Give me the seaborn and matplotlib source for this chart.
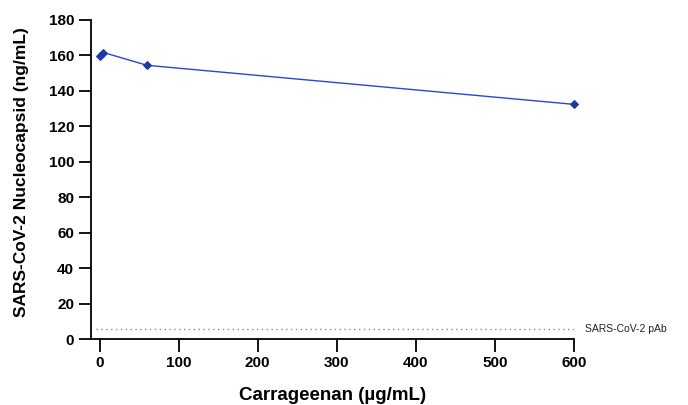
import matplotlib
matplotlib.use("Agg")
import matplotlib.pyplot as plt
import seaborn as sns
import pandas as pd

# dados
carrageenan = [0, 5, 60, 600]
nucleocapsid = [159.5, 161.6, 154.4, 132.4]
pab_level = 6
pab_label = "SARS-CoV-2 pAb"
x_ticks = [0, 100, 200, 300, 400, 500, 600]
y_ticks = [0, 20, 40, 60, 80, 100, 120, 140, 160, 180]

df = pd.DataFrame({"x": carrageenan, "y": nucleocapsid})

sns.set_style("ticks")
plt.rcParams["font.family"] = ["Liberation Sans", "DejaVu Sans"]
plt.rcParams["text.color"] = "black"
plt.rcParams["xtick.color"] = "black"
plt.rcParams["ytick.color"] = "black"
plt.rcParams["axes.labelcolor"] = "black"

fig = plt.figure(figsize=(6.88, 4.05), dpi=100)
ax = fig.add_axes([0.132, 0.162, 0.702, 0.789])

sns.lineplot(data=df, x="x", y="y", color="#2b45d8", linewidth=1.0,
             marker="D", markersize=4.5, markerfacecolor="#1a3aa8",
             markeredgecolor="#1a3aa8", ax=ax, clip_on=False)

# linha de referência do anticorpo
ax.plot([-5, 600], [pab_level, pab_level], linestyle=(0, (1, 2.5)),
        color="#8a8a8a", linewidth=1.0)
ax.text(614, pab_level, pab_label, fontsize=7.5, va="center", ha="left",
        color="#222222", clip_on=False)

ax.set_xlim(-11, 600)
ax.set_ylim(0, 180)
ax.set_xticks(x_ticks)
ax.set_yticks(y_ticks)
ax.spines["top"].set_visible(False)
ax.spines["right"].set_visible(False)
for s in ["left", "bottom"]:
    ax.spines[s].set_linewidth(1.3)
    ax.spines[s].set_color("black")
ax.tick_params(axis="both", length=9, width=1.3, labelsize=11, pad=3)
for lab in ax.get_xticklabels() + ax.get_yticklabels():
    lab.set_fontweight("bold")

ax.set_xlabel("Carrageenan (µg/mL)", fontsize=13.5, fontweight="bold", labelpad=12)
ax.set_ylabel("SARS-CoV-2 Nucleocapsid (ng/mL)", fontsize=12.5, fontweight="bold")
ax.yaxis.set_label_coords(-0.128, 0.525)

fig.savefig("out.png", dpi=100)
